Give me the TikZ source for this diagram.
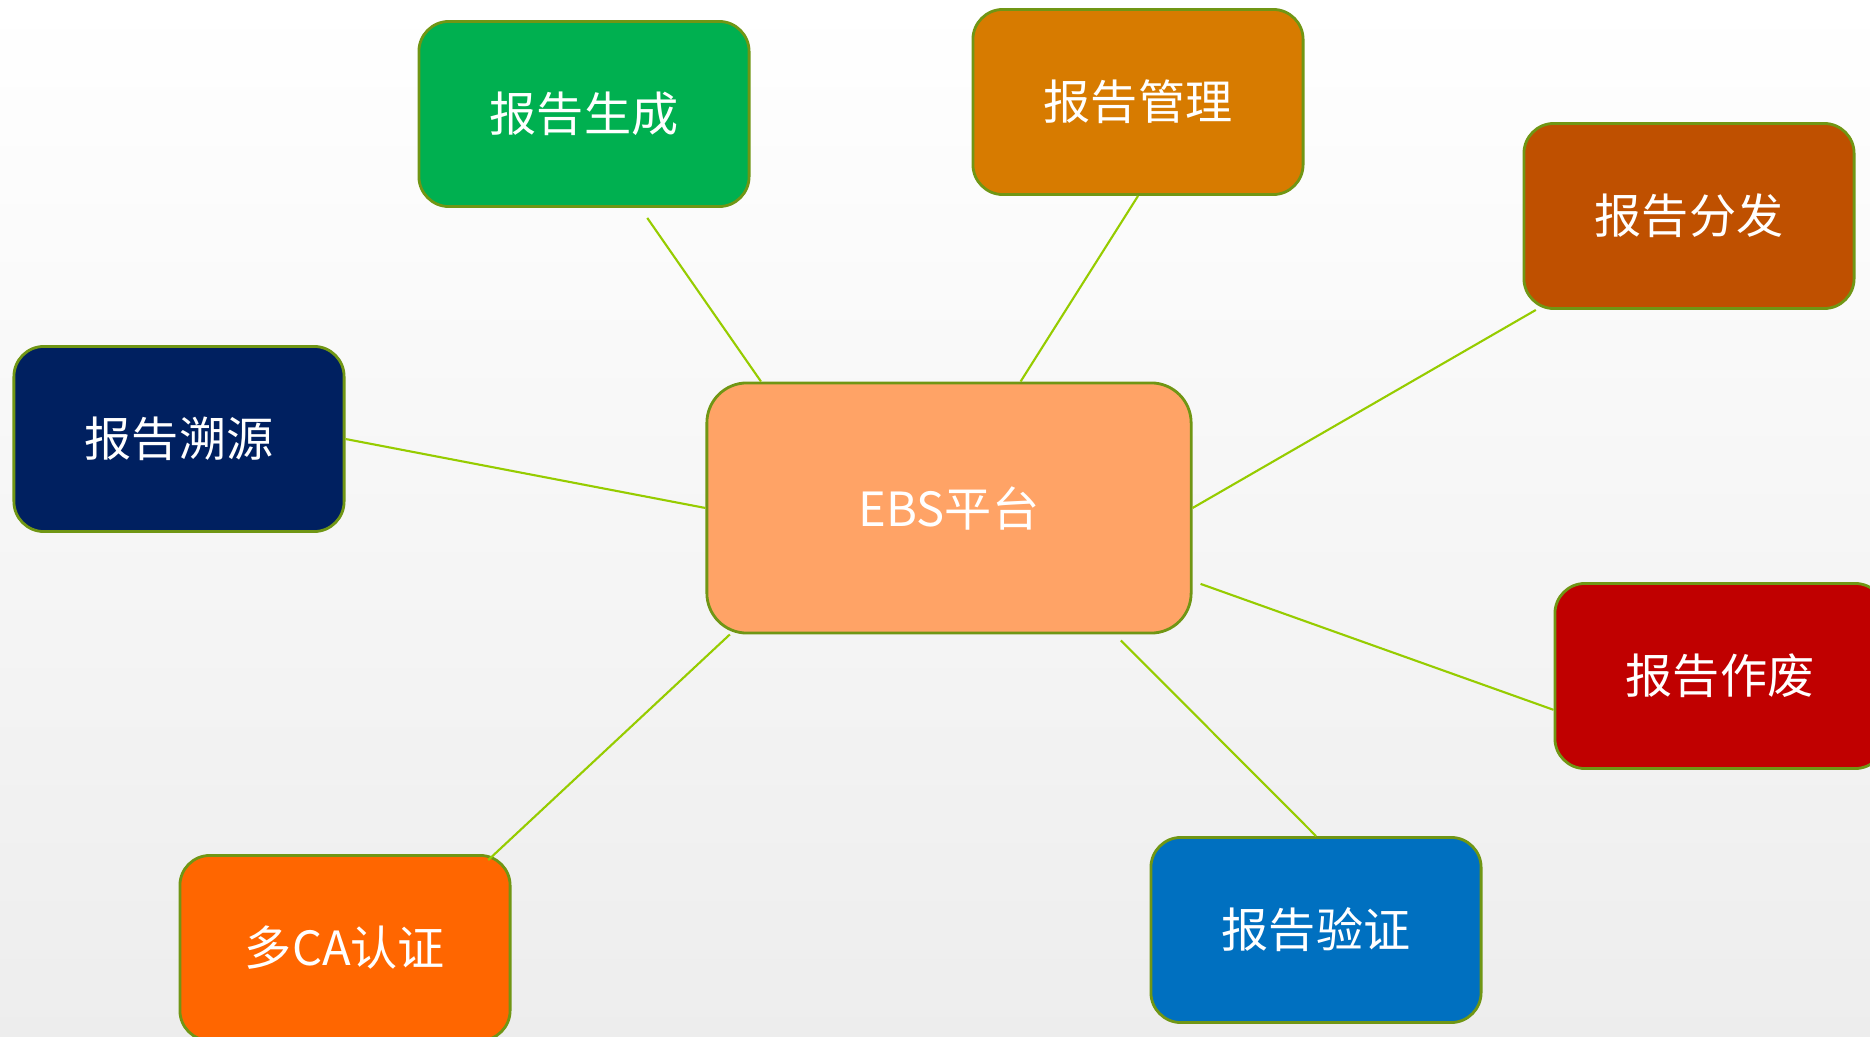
\documentclass[tikz,border=0pt]{standalone}
\usepackage{fontspec}
\setmainfont{Noto Sans CJK SC}
\usetikzlibrary{calc}
\definecolor{genGreen}{RGB}{0,176,80}
\definecolor{mgmtOrange}{RGB}{215,123,0}
\definecolor{distBrown}{RGB}{191,80,0}
\definecolor{traceNavy}{RGB}{0,32,96}
\definecolor{ebsPeach}{RGB}{255,163,102}
\definecolor{voidRed}{RGB}{192,0,0}
\definecolor{verifyBlue}{RGB}{0,112,192}
\definecolor{caOrange}{RGB}{255,102,0}
\definecolor{boxBorder}{RGB}{112,150,20}
\definecolor{linkGreen}{RGB}{150,204,0}

\begin{document}
\begin{tikzpicture}[x=0.01cm, y=-0.01cm,
  box/.style={rectangle, rounded corners=0.3cm, draw=boxBorder, line width=0.8pt, text=white, align=center, minimum width=3.3cm, minimum height=1.85cm, font=\fontsize{13.4pt}{16pt}\selectfont},
  link/.style={draw=linkGreen, line width=0.6pt}]
\useasboundingbox (0,0) rectangle (1870,1037);
\fill[top color=white, bottom color=black!7] (0,0) rectangle (1870,1037);

\path (584,114) node[box, fill=genGreen](gen) {报告生成};
\path (1138,102) node[box, fill=mgmtOrange](mgmt) {报告管理};
\path (1689,216) node[box, fill=distBrown](dist) {报告分发};
\path (179,439) node[box, fill=traceNavy](trace) {报告溯源};
\path (949,508) node[box, fill=ebsPeach, rounded corners=0.4cm, minimum width=4.84cm, minimum height=2.5cm](ebs) {EBS平台};
\path (1720,676) node[box, fill=voidRed](void) {报告作废};
\path (1316,930) node[box, fill=verifyBlue](verify) {报告验证};
\path (345,948) node[box, fill=caOrange](ca) {多CA认证};

\draw[link] ($(gen.south west)!0.69!(gen.south east)+(0,10)$) -- ($(ebs.north west)!0.114!(ebs.north east)$);
\draw[link] (mgmt.south) -- ($(ebs.north west)!0.647!(ebs.north east)$);
\draw[link] ($(dist.south west)!0.04!(dist.south east)$) -- (ebs.east);
\draw[link] (trace.east) -- (ebs.west);
\draw[link] ($(ebs.north east)!0.8!(ebs.south east)+(8,0)$) -- ($(void.north west)!0.68!(void.south west)$);
\draw[link] ($(ebs.south west)!0.853!(ebs.south east)+(0,6)$) -- (verify.north);
\draw[link] ($(ebs.south west)!0.05!(ebs.south east)$) -- ($(ca.north west)!0.93!(ca.north east)+(0,6)$);

\end{tikzpicture}
\end{document}
